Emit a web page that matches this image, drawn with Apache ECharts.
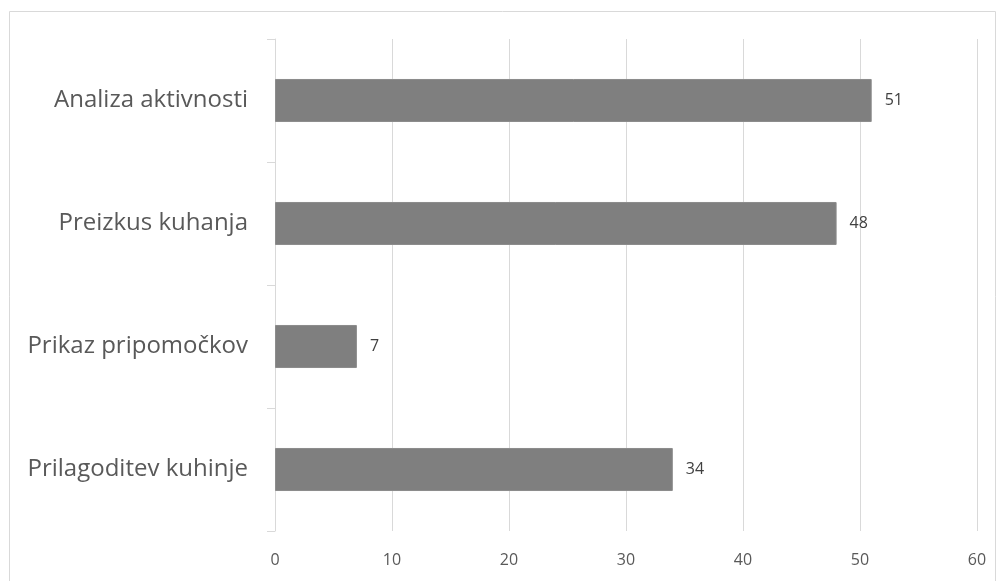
<!DOCTYPE html>
<html>
<head>
<meta charset="utf-8">
<script src="https://cdn.jsdelivr.net/npm/echarts@6/dist/echarts.min.js"></script>
<style>
  html, body { margin: 0; padding: 0; background: #fff; }
  #chart { width: 1001px; height: 581px; }
</style>
</head>
<body>
<div id="chart"></div>
<script>
// categories from top to bottom
const categories = ["Analiza aktivnosti", "Preizkus kuhanja", "Prikaz pripomočkov", "Prilagoditev kuhinje"];
const values = [51, 48, 7, 34];
const xTicks = [0, 10, 20, 30, 40, 50, 60];

const chart = echarts.init(document.getElementById("chart"));
const option = {
  animation: false,
  textStyle: { fontFamily: "Open Sans" },
  graphic: [
    {
      type: "rect",
      shape: { x: 9.5, y: 11.5, width: 986, height: 590 },
      style: { fill: "none", stroke: "#d9d9d9", lineWidth: 1 },
      silent: true
    }
  ],
  grid: { left: 275, right: 24, top: 39, bottom: 50 },
  xAxis: {
    type: "value",
    min: xTicks[0],
    max: xTicks[xTicks.length - 1],
    interval: 10,
    axisLine: { show: false },
    axisTick: { show: false },
    splitLine: { lineStyle: { color: "#d9d9d9", width: 1 } },
    axisLabel: { color: "#595959", fontSize: 16, margin: 21 }
  },
  yAxis: {
    type: "category",
    inverse: true,
    data: categories,
    axisLine: { show: true, onZero: false, lineStyle: { color: "#d9d9d9" } },
    axisTick: { show: true, length: 8, lineStyle: { color: "#d9d9d9" } },
    axisLabel: { color: "#595959", fontSize: 24, margin: 27 }
  },
  series: [
    {
      type: "bar",
      data: values,
      barWidth: "35%",
      itemStyle: { color: "#7f7f7f", borderColor: "#8c8c8c", borderWidth: 1 },
      label: {
        show: true,
        position: "right",
        distance: 13,
        color: "#404040",
        fontSize: 16
      }
    }
  ]
};
chart.setOption(option);
</script>
</body>
</html>
